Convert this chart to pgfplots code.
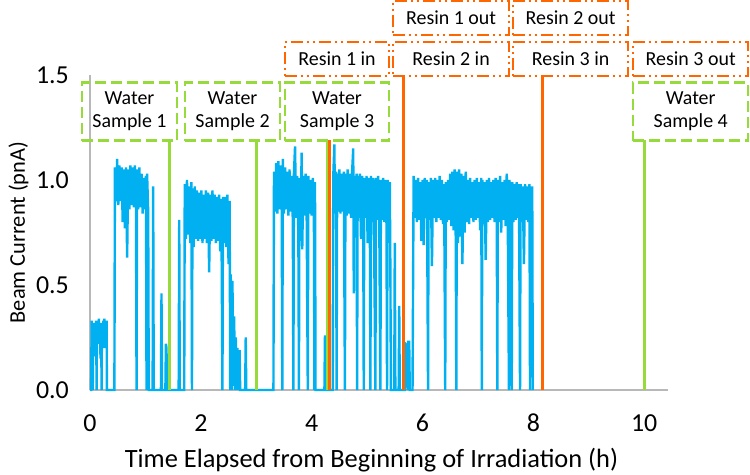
\documentclass[border=0pt]{standalone}
\usepackage{pgfplots}
\pgfplotsset{compat=1.18}
\usepackage{fontspec}
\setmainfont{Carlito}

\definecolor{beam}{RGB}{0,176,240}
\definecolor{wgreen}{RGB}{150,218,60}
\definecolor{rorange}{RGB}{255,102,0}

\begin{document}
\begin{tikzpicture}[
    wbox/.style={draw=wgreen, line width=2.2bp, dash pattern=on 11bp off 5bp,
        minimum height=58bp, inner sep=0pt, align=center,
        font=\fontsize{20}{23}\selectfont},
    rbox/.style={draw=rorange, line width=2.2bp,
        dash pattern=on 12bp off 4bp on 2bp off 4bp on 2bp off 4bp,
        minimum height=34bp, inner sep=0pt, align=center,
        font=\fontsize{20}{23}\selectfont},
]
\useasboundingbox (-90bp,-85bp) rectangle (660bp,390bp);
\begin{axis}[
    scale only axis,
    width=578bp, height=315bp,
    xmin=0, xmax=10.43, ymin=0, ymax=1.5,
    axis x line*=bottom, axis y line*=left,
    axis line style={-, draw=black!28, line width=1.3bp},
    xtick={0,2,4,6,8,10}, ytick={0,0.5,1,1.5},
    major tick length=0,
    /pgf/number format/assume math mode=true,
    tick label style={font=\fontsize{26}{30}\selectfont, inner sep=0pt},
    xticklabel style={anchor=center, yshift=-33bp},
    yticklabel style={anchor=east, xshift=-21bp, /pgf/number format/fixed,
        /pgf/number format/fixed zerofill, /pgf/number format/precision=1},
    xlabel={Time Elapsed from Beginning of Irradiation (h)},
    ylabel={Beam Current (pnA)},
    xlabel style={font=\fontsize{26.5}{30}\selectfont,
        at={(axis description cs:0.487,0)}, anchor=base, yshift=-77bp},
    ylabel style={font=\fontsize{22.5}{26}\selectfont,
        at={(axis description cs:-0.1125,0.5)}, anchor=base},
    clip=false,
]
% beam current trace
\addplot[beam, line width=2.4bp] coordinates {
(0,0) (0.02,0) (0.03,0.33) (0.04,0.17) (0.05,0) (0.055,0.32) (0.07,0.16) (0.09,0.32) (0.10,0.20) (0.11,0.33) (0.12,0) (0.125,0.30)
(0.14,0.22) (0.16,0.34) (0.17,0.25) (0.18,0.29) (0.19,0.15) (0.20,0.32) (0.21,0) (0.215,0.31) (0.23,0.20) (0.24,0.33) (0.25,0.22)
(0.26,0.34) (0.27,0.20) (0.28,0.33) (0.29,0.24) (0.30,0.33) (0.305,0)
(0.44,0) (0.45,1.06) (0.47,0.90) (0.49,1.10) (0.51,0.88) (0.53,1.07) (0.55,0.90) (0.57,1.06) (0.59,0.80) (0.61,1.05) (0.63,0.77)
(0.65,1.06) (0.67,0.63) (0.69,1.05) (0.71,0.86) (0.73,1.07) (0.75,0.88) (0.77,1.06) (0.79,0.87) (0.81,1.07) (0.83,0.88) (0.84,0)
(0.85,1.05) (0.87,0.86) (0.89,1.06) (0.91,0.87) (0.93,1.03) (0.95,0.84) (0.97,1.01) (0.99,0.86) (1.01,1.02) (1.02,0) (1.03,1.03)
(1.05,0.85) (1.06,0)
(1.13,0) (1.14,0.97) (1.15,0) (1.28,0) (1.29,0.46) (1.30,0) (1.36,0) (1.37,0.22) (1.38,0.20) (1.39,0)
(1.60,0) (1.61,0.81) (1.62,0)
(1.70,0) (1.71,0.98) (1.73,0.72) (1.75,1.00) (1.77,0.74) (1.79,0.97) (1.81,0.70) (1.83,0.99) (1.84,0) (1.85,0.96) (1.87,0.68)
(1.89,0.97) (1.91,0.72) (1.93,0.95) (1.95,0.71) (1.97,0.94) (1.99,0.72) (2.01,0.95) (2.03,0.70) (2.05,0.93) (2.07,0.72) (2.09,0.95)
(2.11,0.70) (2.13,0.94) (2.15,0.56) (2.17,0.93) (2.19,0.71) (2.21,0.95) (2.23,0.72) (2.25,0.93) (2.27,0.70) (2.29,0.92) (2.31,0.71)
(2.33,0.93) (2.35,0.66) (2.37,0.91) (2.39,0) (2.40,0.92) (2.42,0.70) (2.44,0.92) (2.46,0.68) (2.48,0.93) (2.50,0.60) (2.52,0.90)
(2.53,0) (2.54,0.55) (2.56,0) (2.57,0.52) (2.59,0.02) (2.60,0.35) (2.62,0) (2.63,0.25) (2.65,0) (2.66,0.20) (2.68,0) (2.70,0.19)
(2.71,0) (2.80,0) (2.81,0.25) (2.82,0)
(3.31,0) (3.32,1.04) (3.34,0.85) (3.36,1.08) (3.38,0.84) (3.40,1.09) (3.42,0.86) (3.44,1.07) (3.46,0.85) (3.47,0) (3.48,1.10)
(3.50,0.84) (3.52,1.06) (3.54,0.86) (3.56,1.04) (3.58,0.83) (3.60,1.05) (3.62,0.85) (3.64,1.02) (3.66,0.80) (3.67,0) (3.68,1.03)
(3.70,1.16) (3.72,0.82) (3.74,1.02) (3.76,0.74) (3.77,0) (3.78,1.01) (3.80,0.84) (3.82,1.13) (3.83,0.67) (3.85,1.02) (3.87,0.83)
(3.89,1.03) (3.91,0.82) (3.93,0) (3.94,1.02) (3.96,0.84) (3.98,1.00) (4.00,0.83) (4.02,1.01) (4.04,0.85) (4.05,0) (4.06,0.99)
(4.07,0)
(4.23,0) (4.24,0.26) (4.25,0)
(4.38,0) (4.39,1.02) (4.41,1.17) (4.42,0.84) (4.44,1.04) (4.45,0) (4.46,1.03) (4.48,0.85) (4.50,1.05) (4.52,0.84) (4.54,1.03)
(4.56,0.85) (4.58,1.04) (4.60,0) (4.61,1.03) (4.63,0.83) (4.65,1.05) (4.67,0.84) (4.69,1.03) (4.71,0.82) (4.73,1.04) (4.75,1.15)
(4.76,0.46) (4.77,1.02) (4.79,0.83) (4.81,1.03) (4.82,0) (4.83,1.02) (4.85,0.82) (4.87,1.03) (4.89,0.72) (4.91,1.02) (4.93,0.83)
(4.94,0) (4.95,1.01) (4.97,0.82) (4.99,1.02) (5.01,0.70) (5.03,1.01) (5.05,0.81) (5.06,0) (5.07,1.02) (5.09,0.80) (5.11,1.01)
(5.13,0.62) (5.15,0) (5.16,1.01) (5.18,0.81) (5.20,1.02) (5.22,0.80) (5.24,0) (5.25,1.00) (5.27,0.81) (5.29,1.01) (5.31,0.80)
(5.33,1.00) (5.35,0.79) (5.36,0) (5.37,1.00) (5.39,0.80) (5.41,0.99) (5.42,0.58) (5.43,0)
(5.49,0) (5.50,0.70) (5.51,0) (5.57,0) (5.58,0.40) (5.59,0)
(5.68,0) (5.69,0.22) (5.72,0.21) (5.73,0) (5.74,0.23) (5.76,0.23) (5.77,0)
(5.82,0) (5.84,1.02) (5.86,0.82) (5.88,1.00) (5.90,0.80) (5.92,1.01) (5.94,0.81) (5.96,0.99) (5.98,0.71) (6.00,1.00) (6.02,0.69)
(6.04,1.01) (6.06,0.82) (6.08,1.00) (6.10,0) (6.11,0.99) (6.13,0.81) (6.15,1.01) (6.17,0.59) (6.19,1.00) (6.21,0.82) (6.23,1.01)
(6.25,0.80) (6.27,1.00) (6.29,0.82) (6.31,1.02) (6.33,0.81) (6.35,1.00) (6.37,0.79) (6.39,0.98) (6.41,0) (6.42,0.99) (6.44,0.80)
(6.46,1.00) (6.48,0.81) (6.50,1.03) (6.52,0.78) (6.54,1.04) (6.56,0.76) (6.58,1.05) (6.60,0.72) (6.61,0) (6.62,1.04) (6.64,0.70)
(6.66,1.05) (6.68,0.73) (6.70,1.03) (6.72,0.60) (6.74,1.02) (6.76,0.75) (6.78,1.04) (6.80,0.80) (6.82,1.00) (6.84,0.79) (6.86,1.01)
(6.88,0.82) (6.90,0.99) (6.92,0.80) (6.94,1.00) (6.96,0.81) (6.98,1.01) (7.00,0.82) (7.02,0.99) (7.04,0.76) (7.06,1.01) (7.07,0)
(7.08,1.00) (7.10,0.79) (7.12,0.99) (7.14,0.62) (7.16,1.00) (7.18,0.80) (7.20,1.01) (7.22,0.81) (7.24,0.99) (7.26,0.82) (7.28,1.00)
(7.30,0.80) (7.32,1.01) (7.34,0.81) (7.35,0) (7.36,1.00) (7.38,0.80) (7.40,1.02) (7.42,0.75) (7.44,0.99) (7.46,0.81) (7.48,1.00)
(7.50,0.78) (7.52,1.03) (7.54,0.76) (7.56,0) (7.57,1.00) (7.59,0.77) (7.61,0) (7.62,0.99) (7.64,0.80) (7.66,0.98) (7.68,0.81)
(7.70,0.99) (7.72,0.82) (7.74,0.98) (7.76,0) (7.77,0.98) (7.79,0.80) (7.81,0.97) (7.83,0.60) (7.85,0.98) (7.87,0.81) (7.89,0.97)
(7.91,0.80) (7.93,0.98) (7.94,0) (7.95,0.97) (7.97,0.81) (7.98,0.97) (7.99,0)
};
% event markers
\addplot[wgreen, line width=3bp] coordinates {(1.43,0) (1.43,1.186)};
\addplot[wgreen, line width=3bp] coordinates {(3.00,0) (3.00,1.186)};
\addplot[wgreen, line width=3bp] coordinates {(4.28,0) (4.28,1.186)};
\addplot[rorange, line width=3bp] coordinates {(4.33,0) (4.33,1.19)};
\addplot[rorange, line width=3bp] coordinates {(5.65,0) (5.65,1.50)};
\addplot[rorange, line width=3bp] coordinates {(8.16,0) (8.16,1.49)};
\addplot[wgreen, line width=3bp] coordinates {(10.00,0) (10.00,1.19)};
% callouts
\node[wbox, minimum width=95bp] at (axis cs:0.713,1.326) {Water\\Sample 1};
\node[wbox, minimum width=95bp] at (axis cs:2.572,1.326) {Water\\Sample 2};
\node[wbox, minimum width=104bp] at (axis cs:4.458,1.326) {Water\\Sample 3};
\node[wbox, minimum width=115bp] at (axis cs:10.84,1.326) {Water\\Sample 4};
\node[rbox, minimum width=104bp] at (axis cs:4.458,1.576) {Resin 1 in};
\node[rbox, minimum width=116bp] at (axis cs:6.516,1.576) {Resin 2 in};
\node[rbox, minimum width=115bp] at (axis cs:8.673,1.576) {Resin 3 in};
\node[rbox, minimum width=115bp] at (axis cs:10.84,1.576) {Resin 3 out};
\node[rbox, minimum width=116bp] at (axis cs:6.516,1.771) {Resin 1 out};
\node[rbox, minimum width=115bp] at (axis cs:8.673,1.771) {Resin 2 out};
\end{axis}
\end{tikzpicture}
\end{document}
